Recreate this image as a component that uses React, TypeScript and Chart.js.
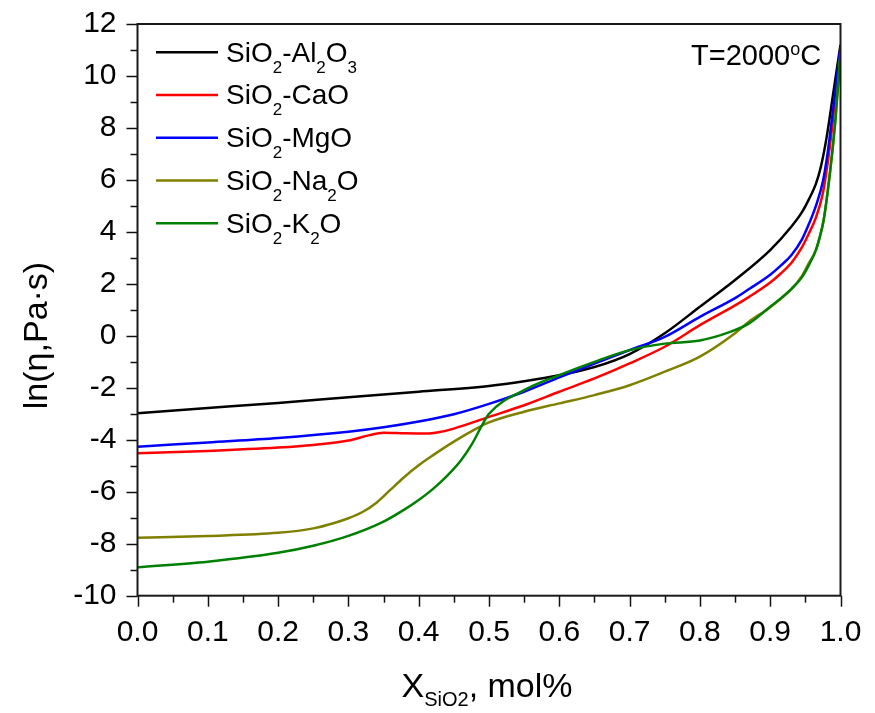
import React, { useEffect, useRef } from 'react';
import { Chart, registerables } from 'chart.js';
Chart.register(...registerables);

const FONT = '"Liberation Sans", Arial, sans-serif';

// X values (mol fraction SiO2) and ln(viscosity) values per system
const xAl = [0, 0.1, 0.2, 0.3, 0.4, 0.5, 0.55, 0.6, 0.65, 0.7, 0.75, 0.8, 0.85, 0.9, 0.93, 0.945, 0.955, 0.965, 0.972, 0.98, 0.99, 1.0];
const yAl = [-2.98, -2.78, -2.58, -2.36, -2.15, -1.93, -1.75, -1.52, -1.2, -0.7, 0.1, 1.12, 2.15, 3.3, 4.2, 4.75, 5.25, 5.85, 6.5, 7.6, 9.4, 11.2];

const xCa = [0, 0.1, 0.2, 0.25, 0.3, 0.33, 0.35, 0.38, 0.41, 0.43, 0.45, 0.5, 0.55, 0.6, 0.65, 0.7, 0.75, 0.8, 0.85, 0.87, 0.9, 0.915, 0.93, 0.945, 0.955, 0.965, 0.975, 0.982, 0.988, 1.0];
const yCa = [-4.52, -4.43, -4.3, -4.2, -4.03, -3.82, -3.73, -3.75, -3.76, -3.7, -3.57, -3.12, -2.67, -2.15, -1.64, -1.06, -0.42, 0.41, 1.17, 1.5, 2.05, 2.4, 2.8, 3.4, 3.94, 4.55, 5.5, 6.7, 8.0, 11.0];

const xMg = [0, 0.1, 0.2, 0.3, 0.35, 0.4, 0.45, 0.5, 0.55, 0.6, 0.65, 0.7, 0.75, 0.8, 0.85, 0.87, 0.9, 0.915, 0.93, 0.945, 0.955, 0.965, 0.975, 0.982, 0.988, 1.0];
const yMg = [-4.27, -4.1, -3.93, -3.69, -3.52, -3.3, -3.02, -2.62, -2.15, -1.6, -1.07, -0.55, -0.04, 0.73, 1.45, 1.8, 2.35, 2.7, 3.1, 3.7, 4.3, 5.0, 5.95, 7.1, 8.4, 11.1];

const xNa = [0, 0.1, 0.2, 0.25, 0.28, 0.3, 0.32, 0.34, 0.36, 0.38, 0.4, 0.42, 0.45, 0.48, 0.5, 0.55, 0.6, 0.65, 0.7, 0.75, 0.8, 0.85, 0.87, 0.9, 0.93, 0.945, 0.955, 0.965, 0.97, 0.976, 0.982, 0.988, 0.993, 1.0];
const yNa = [-7.77, -7.7, -7.58, -7.41, -7.2, -7.02, -6.78, -6.42, -5.92, -5.42, -4.98, -4.6, -4.07, -3.6, -3.33, -2.92, -2.6, -2.28, -1.9, -1.38, -0.8, 0.1, 0.55, 1.1, 1.8, 2.3, 2.8, 3.3, 3.75, 4.45, 5.6, 7.0, 8.4, 10.9];

const xK = [0, 0.1, 0.2, 0.25, 0.3, 0.35, 0.38, 0.4, 0.42, 0.44, 0.46, 0.475, 0.49, 0.5, 0.55, 0.6, 0.65, 0.7, 0.75, 0.8, 0.843, 0.87, 0.9, 0.93, 0.945, 0.955, 0.965, 0.97, 0.976, 0.982, 0.988, 0.993, 1.0];
const yK = [-8.91, -8.69, -8.35, -8.08, -7.7, -7.15, -6.68, -6.32, -5.9, -5.4, -4.8, -4.2, -3.45, -3.0, -2.09, -1.51, -1.0, -0.55, -0.3, -0.18, 0.15, 0.48, 1.12, 1.8, 2.25, 2.72, 3.3, 3.75, 4.45, 5.6, 7.0, 8.4, 10.9];

const seriesColors = ['#000000', '#ff0000', '#0000ff', '#808000', '#008000'];
type Part = [string, number];
const seriesLabels: Part[][] = [
  [['SiO', 0], ['2', 1], ['-Al', 0], ['2', 1], ['O', 0], ['3', 1]],
  [['SiO', 0], ['2', 1], ['-CaO', 0]],
  [['SiO', 0], ['2', 1], ['-MgO', 0]],
  [['SiO', 0], ['2', 1], ['-Na', 0], ['2', 1], ['O', 0]],
  [['SiO', 0], ['2', 1], ['-K', 0], ['2', 1], ['O', 0]],
];
const tempLabel: Part[] = [['T=2000', 0], ['o', 2], ['C', 0]];
const xTitle: Part[] = [['X', 0], ['SiO2', 1], [', mol%', 0]];
const yTitle = 'ln(\u03b7,Pa\u00b7s)';

const xMin = 0, xMax = 1, xStep = 0.1, xMinor = 0.05;
const yMin = -10, yMax = 12, yStep = 2, yMinor = 1;

const AREA = { left: 137.5, top: 24, right: 840.5, bottom: 595.7 };

function drawRich(ctx: CanvasRenderingContext2D, x: number, y: number, parts: Part[], size: number, subSize: number, subDy: number, supDy: number) {
  let cx = x;
  ctx.textAlign = 'left';
  ctx.textBaseline = 'alphabetic';
  for (const [t, k] of parts) {
    ctx.font = `${k === 0 ? size : subSize}px ${FONT}`;
    const dy = k === 1 ? subDy : k === 2 ? -supDy : 0;
    ctx.fillText(t, cx, y + dy);
    cx += ctx.measureText(t).width;
  }
}

const decorPlugin = {
  id: 'decor',
  afterDraw(chart: any) {
    const ctx: CanvasRenderingContext2D = chart.ctx;
    const { left, right, top, bottom } = chart.chartArea;
    const xs = chart.scales.x, ys = chart.scales.y;
    ctx.save();
    ctx.strokeStyle = '#111';
    ctx.lineWidth = 1.5;
    const nx = Math.round((xMax - xMin) / xMinor);
    for (let i = 0; i <= nx; i++) {
      const v = xMin + i * xMinor;
      const px = Math.round(xs.getPixelForValue(v)) + 0.5;
      const len = i % 2 === 0 ? 11 : 7;
      ctx.beginPath(); ctx.moveTo(px, bottom); ctx.lineTo(px, bottom + len); ctx.stroke();
    }
    const ny = Math.round((yMax - yMin) / yMinor);
    for (let i = 0; i <= ny; i++) {
      const v = yMin + i * yMinor;
      const py = Math.round(ys.getPixelForValue(v)) + 0.5;
      const len = i % 2 === 0 ? 11 : 7;
      ctx.beginPath(); ctx.moveTo(left, py); ctx.lineTo(left - len, py); ctx.stroke();
    }
    ctx.lineWidth = 2;
    ctx.strokeStyle = '#1a1a1a';
    ctx.strokeRect(left, top, right - left, bottom - top);
    ctx.fillStyle = '#000';
    for (let i = 0; i < seriesLabels.length; i++) {
      const ly = 52.3 + i * 42.75;
      ctx.strokeStyle = seriesColors[i];
      ctx.lineWidth = 2.5;
      ctx.beginPath(); ctx.moveTo(156, ly); ctx.lineTo(218, ly); ctx.stroke();
      drawRich(ctx, 226, ly + 9.4, seriesLabels[i], 28, 17, 11, 0);
    }
    drawRich(ctx, 691, 65, tempLabel, 29, 18, 0, 10);
    drawRich(ctx, 401.5, 696.5, xTitle, 34, 20, 9, 0);
    ctx.save();
    ctx.translate(46.7, 335.5);
    ctx.rotate(-Math.PI / 2);
    ctx.font = `34px ${FONT}`;
    ctx.textAlign = 'center';
    ctx.textBaseline = 'alphabetic';
    ctx.fillText(yTitle, 0, 0);
    ctx.restore();
    ctx.restore();
  },
};

export default function App() {
  const ref = useRef<HTMLCanvasElement>(null);
  useEffect(() => {
    if (!ref.current) return;
    const sets = [
      { xs: xAl, ys: yAl, c: seriesColors[0] },
      { xs: xCa, ys: yCa, c: seriesColors[1] },
      { xs: xMg, ys: yMg, c: seriesColors[2] },
      { xs: xNa, ys: yNa, c: seriesColors[3] },
      { xs: xK, ys: yK, c: seriesColors[4] },
    ];
    const datasets = sets.map((s, i) => ({
      label: 'S' + i,
      data: s.xs.map((x, j) => ({ x, y: s.ys[j] })),
      borderColor: s.c,
      backgroundColor: s.c,
      borderWidth: 2.5,
      pointRadius: 0,
      fill: false,
      cubicInterpolationMode: 'monotone' as const,
      order: 5 - i,
    }));
    const chart: any = new Chart(ref.current, {
      type: 'line',
      data: { datasets },
      plugins: [decorPlugin],
      options: {
        animation: false,
        responsive: false,
        events: [],
        layout: { padding: { left: 0, top: AREA.top, right: 875 - AREA.right, bottom: 0 } },
        plugins: { legend: { display: false }, tooltip: { enabled: false } },
        scales: {
          x: {
            type: 'linear', min: xMin, max: xMax,
            grid: { display: false, drawTicks: false },
            border: { display: false },
            ticks: {
              stepSize: xStep, padding: 19, color: '#000',
              font: { family: FONT, size: 30 },
              callback: (v: any) => Number(v).toFixed(1),
              maxRotation: 0, autoSkip: false,
            },
            afterFit: (s: any) => { s.height = 713 - AREA.bottom; s.paddingLeft = 0; s.paddingRight = 0; },
          },
          y: {
            type: 'linear', min: yMin, max: yMax,
            grid: { display: false, drawTicks: false },
            border: { display: false },
            ticks: {
              stepSize: yStep, padding: 21, color: '#000',
              font: { family: FONT, size: 30 },
              callback: (v: any) => String(Math.round(Number(v))),
            },
            afterFit: (s: any) => { s.width = AREA.left; s.paddingTop = 0; s.paddingBottom = 0; },
          },
        },
      },
    });
    return () => chart.destroy();
  }, []);
  return (
    <div style={{ position: 'absolute', left: 0, top: 0, width: 875, height: 713, background: '#fff' }}>
      <canvas ref={ref} width={875} height={713} style={{ display: 'block' }} />
    </div>
  );
}
